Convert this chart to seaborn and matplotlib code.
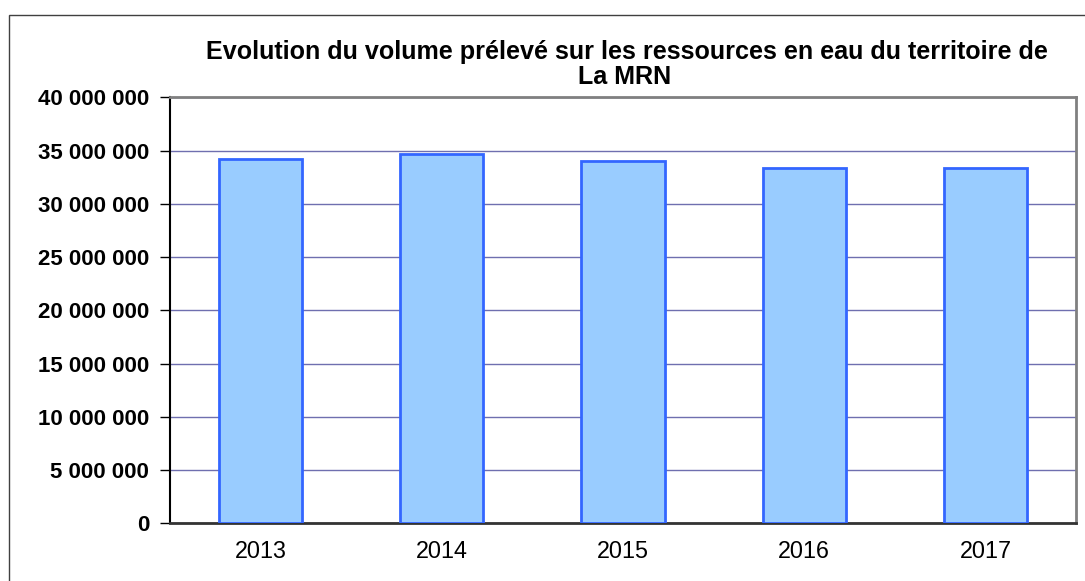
import numpy as np
import pandas as pd
import seaborn as sns
import matplotlib.pyplot as plt
from matplotlib.patches import Rectangle
from matplotlib.ticker import FuncFormatter, FixedLocator

years = ["2013", "2014", "2015", "2016", "2017"]
volumes = [34_240_000, 34_680_000, 34_020_000, 33_390_000, 33_360_000]
title_lines = ["Evolution du volume prélevé sur les ressources en eau du territoire de",
               "La MRN"]

sns.set_style("white")
plt.rcParams['font.family'] = ['Liberation Sans', 'DejaVu Sans']
plt.rcParams['text.color'] = 'black'
plt.rcParams['xtick.color'] = 'black'
plt.rcParams['ytick.color'] = 'black'

df = pd.DataFrame({"year": years, "volume": volumes})

fig = plt.figure(figsize=(10.85, 5.81), dpi=100)
ax = fig.add_axes([170 / 1085, 1 - 523.3 / 581, (1076 - 170) / 1085, (523.3 - 97.3) / 581])

sns.barplot(data=df, x="year", y="volume", ax=ax, color="#99CCFF",
            edgecolor="#3366FF", linewidth=2, width=0.46, saturation=1, zorder=3)

ax.set_xlim(-0.5, len(years) - 0.5)
ax.set_ylim(0, 40_000_000)
ax.set_yticks(np.arange(0, 40_000_001, 5_000_000))
ax.yaxis.set_major_formatter(FuncFormatter(lambda v, p: f"{int(v):,}".replace(",", " ")))
ax.yaxis.grid(True, color="#6F6FAF", linewidth=1, zorder=0)
ax.set_axisbelow(True)

ax.xaxis.set_minor_locator(FixedLocator(np.arange(-0.5, len(years), 1)))
ax.tick_params(axis="x", which="major", length=0, labelsize=16.8, pad=12, labelcolor="black")
ax.tick_params(axis="x", which="minor", length=7, width=1, direction="out", color="black")
ax.tick_params(axis="y", length=7, width=1, direction="out", color="black", labelsize=16,
               pad=8, left=True, labelcolor="black")
for lbl in ax.get_yticklabels():
    lbl.set_fontweight("bold")

ax.set_xlabel("")
ax.set_ylabel("")

ax.spines["left"].set_color("black")
ax.spines["left"].set_linewidth(1.5)
ax.spines["bottom"].set_color("#333333")
ax.spines["bottom"].set_linewidth(2)
ax.spines["top"].set_color("#808080")
ax.spines["top"].set_linewidth(2)
ax.spines["right"].set_color("#808080")
ax.spines["right"].set_linewidth(2)

fig.text(627 / 1085, 1 - 59 / 581, title_lines[0], ha="center", va="baseline",
         fontsize=18.1, fontweight="bold", color="black")
fig.text(625 / 1085, 1 - 84 / 581, title_lines[1], ha="center", va="baseline",
         fontsize=18.1, fontweight="bold", color="black")

fig.patches.append(Rectangle((9 / 1085, -0.1), 1.2, 1 - 15 / 581 + 0.1,
                             transform=fig.transFigure, fill=False,
                             edgecolor="#404040", linewidth=1))

fig.savefig("out.png", dpi=100)
